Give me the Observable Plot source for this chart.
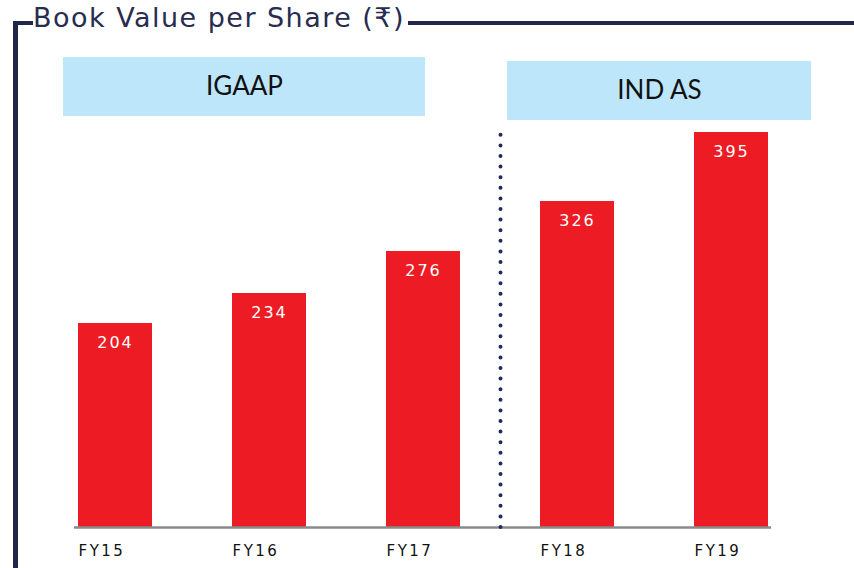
<!DOCTYPE html>
<html>
<head>
<meta charset="utf-8">
<script src="https://cdn.jsdelivr.net/npm/d3@7"></script>
<script src="https://cdn.jsdelivr.net/npm/@observablehq/plot@0.6"></script>
<style>
  html, body { margin: 0; padding: 0; background: #fff; }
  #wrap { position: relative; width: 854px; height: 568px; }
  #wrap svg { position: absolute; left: 0; top: 0; }
  .frame { position: absolute; background: #21264b; }
  #title { position: absolute; left: 33px; top: 2px; font-family: "DejaVu Sans", sans-serif; font-size: 27px; line-height: 32px; color: #272c50; white-space: nowrap; }
  g[aria-label="text"][font-family*="DejaVu"] text { letter-spacing: 2px; }
  g[aria-label="x-axis tick label"] text { letter-spacing: 2.5px; }
</style>
</head>
<body>
<div id="wrap">
  <div class="frame" style="left:13px; top:21px; width:5px; height:547px;"></div>
  <div class="frame" style="left:13px; top:21px; width:20px; height:4px;"></div>
  <div class="frame" style="left:408px; top:21px; width:446px; height:4px;"></div>
  <div id="title">Book Value per Share (₹)</div>
</div>
<script>
const years = ["FY15", "FY16", "FY17", "FY18", "FY19"];
const values = [204, 234, 276, 326, 395];
const groups = ["IGAAP", "IND AS"];
const groupStart = ["FY15", "FY18"];
const groupEnd = ["FY17", "FY19"];
const groupBottom = [411, 407];
const groupTop = [470, 466];
const separatorAt = ["FY18"];
const separatorTop = 397;

const data = years.map((y, i) => ({year: y, value: values[i]}));
const boxes = groups.map((g, i) => ({name: g, x1: groupStart[i], x2: groupEnd[i], y1: groupBottom[i], y2: groupTop[i]}));

const boxFont = "Lato, 'Noto Sans', sans-serif";
const chart = Plot.plot({
  width: 854,
  height: 568,
  marginLeft: 45,
  marginRight: 54,
  marginTop: 27,
  marginBottom: 41,
  x: {domain: years, paddingInner: 0.522, paddingOuter: 0.2, axis: null},
  y: {domain: [0, 500], axis: null},
  style: {background: "transparent", overflow: "visible"},
  marks: [
    Plot.rect(boxes.slice(0,1), {x1: "x1", x2: "x2", y1: "y1", y2: "y2", fill: "#bde6fb", insetLeft: -15, insetRight: 35}),
    Plot.rect(boxes.slice(1,2), {x1: "x1", x2: "x2", y1: "y1", y2: "y2", fill: "#bde6fb", insetLeft: -33, insetRight: -43}),
    Plot.text(boxes.slice(0,1), {x: () => "FY16", y: d => (d.y1 + d.y2) / 2, text: "name", fontSize: 26, fill: "#111", fontFamily: boxFont, dx: -25}),
    Plot.text(boxes.slice(1,2), {x: () => "FY18", y: d => (d.y1 + d.y2) / 2, text: "name", fontSize: 26, fill: "#111", fontFamily: boxFont, dx: 82}),
    Plot.barY(data, {x: "year", y: "value", fill: "#ed1c24"}),
    Plot.ruleY([0], {stroke: "#8a8a8a", strokeWidth: 2.5, insetLeft: 29, insetRight: 29}),
    Plot.ruleX(separatorAt, {x: d => d, y1: 0, y2: separatorTop, dx: -77, stroke: "#1f2a5c", strokeWidth: 4, strokeDasharray: "0,10.6", strokeLinecap: "round"}),
    Plot.text(data, {x: "year", y: "value", text: d => String(d.value), dy: 19, fill: "white", fontSize: 16, fontFamily: "'DejaVu Sans', Verdana, sans-serif"}),
    Plot.axisX({tickSize: 0, textAnchor: "start", dx: -37, dy: 9, fontSize: 15, fontFamily: "'DejaVu Sans', Verdana, sans-serif", fill: "#111", label: null})
  ]
});
const wrap = document.getElementById("wrap");
wrap.insertBefore(chart, wrap.firstChild);
// fit title to its slot between the frame segments (box incl. trailing spacing ends before the line)
const t = document.getElementById("title");
const w = t.getBoundingClientRect().width;
const target = 372;
const n = t.textContent.length;
t.style.letterSpacing = ((target - w) / n) + "px";
</script>
</body>
</html>
